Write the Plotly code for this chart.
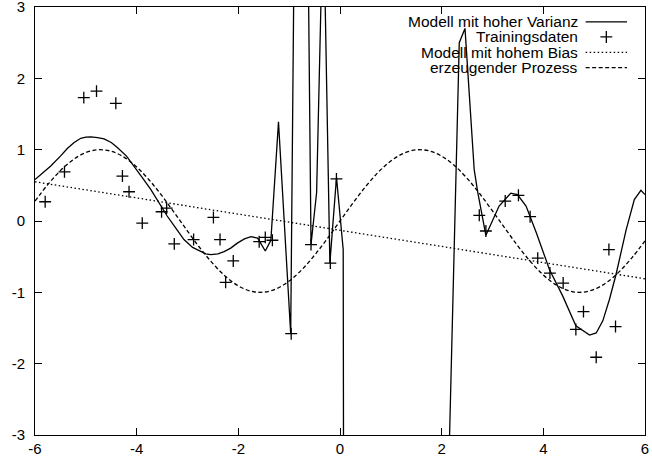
import plotly.graph_objects as go

# ---------------- data ----------------
# training data (crosses)
train_x = [-5.80, -5.42, -5.04, -4.79, -4.41, -4.28, -4.15, -3.89, -3.51, -3.41,
           -3.26, -2.88, -2.49, -2.36, -2.25, -2.10, -1.59, -1.47, -1.33, -0.96,
           -0.57, -0.19, -0.07, 2.74, 2.87, 3.25, 3.51, 3.74, 3.89, 4.13,
           4.39, 4.64, 4.79, 5.04, 5.29, 5.42]
train_y = [0.27, 0.69, 1.73, 1.82, 1.65, 0.63, 0.41, -0.03, 0.13, 0.18,
           -0.32, -0.26, 0.05, -0.26, -0.86, -0.56, -0.29, -0.23, -0.27, -1.58,
           -0.33, -0.59, 0.59, 0.08, -0.14, 0.28, 0.36, 0.06, -0.52, -0.73,
           -0.87, -1.52, -1.27, -1.91, -0.40, -1.48]

# high-variance model (solid), values beyond the axis range are clipped
var_x = [-6.00, -5.69, -5.50, -5.36, -5.23, -5.10, -5.00, -4.90, -4.77, -4.64,
         -4.50, -4.38, -4.20, -4.05, -3.90, -3.72, -3.55, -3.40, -3.23, -3.07,
         -2.90, -2.74, -2.64, -2.54, -2.40, -2.28, -2.15, -2.02, -1.88, -1.75,
         -1.62, -1.47, -1.36, -1.21,
         -0.97, -0.905, -0.625, -0.57, -0.46, -0.357, -0.306, -0.199, -0.069, 0.063,
         0.07, 2.135, 2.346, 2.459, 2.64, 2.71, 2.87, 3.13, 3.36, 3.49,
         3.66, 3.86, 4.12, 4.38, 4.64, 4.91, 5.04, 5.17, 5.30, 5.43,
         5.63, 5.79, 5.92, 6.00]
var_y = [0.58, 0.77, 0.91, 1.02, 1.10, 1.16, 1.175, 1.18, 1.17, 1.15,
         1.10, 1.03, 0.91, 0.77, 0.62, 0.44, 0.25, 0.07, -0.10, -0.26,
         -0.37, -0.43, -0.46, -0.47, -0.46, -0.43, -0.38, -0.31, -0.25, -0.22,
         -0.24, -0.42, -0.27, 1.39,
         -1.58, 3.6, 3.6, -0.33, 0.40, 3.6, 3.6, -0.59, 0.61, -0.40,
         -3.6, -3.6, 2.50, 2.70, 0.72, 0.40, -0.20, 0.21, 0.39, 0.37,
         0.21, -0.16, -0.68, -1.05, -1.47, -1.60, -1.57, -1.40, -1.10, -0.75,
         -0.12, 0.30, 0.43, 0.37]

# high-bias model (dotted straight line)
bias_x = [-6.0, 6.0]
bias_y = [0.55, -0.81]

# generating process (dashed): sampled sine-shaped curve
proc_x = [-6.0, -5.75, -5.5, -5.25, -5.0, -4.75, -4.5, -4.25, -4.0, -3.75, -3.5, -3.25,
          -3.0, -2.75, -2.5, -2.25, -2.0, -1.75, -1.5, -1.25, -1.0, -0.75, -0.5, -0.25,
          0.0, 0.25, 0.5, 0.75, 1.0, 1.25, 1.5, 1.75, 2.0, 2.25, 2.5, 2.75,
          3.0, 3.25, 3.5, 3.75, 4.0, 4.25, 4.5, 4.75, 5.0, 5.25, 5.5, 5.75, 6.0]
proc_y = [0.279, 0.509, 0.706, 0.859, 0.959, 0.999, 0.978, 0.895, 0.757, 0.572, 0.351, 0.108,
          -0.141, -0.382, -0.598, -0.778, -0.909, -0.984, -0.997, -0.949, -0.841, -0.682, -0.479, -0.247,
          0.0, 0.247, 0.479, 0.682, 0.841, 0.949, 0.997, 0.984, 0.909, 0.778, 0.598, 0.382,
          0.141, -0.108, -0.351, -0.572, -0.757, -0.895, -0.978, -0.999, -0.959, -0.859, -0.706, -0.509, -0.279]

x_ticks = [-6, -4, -2, 0, 2, 4, 6]
x_ticktext = ["-6", "-4", "-2", "0", "2", "4", "6"]
y_ticks = [-3, -2, -1, 0, 1, 2, 3]
y_ticktext = ["-3", "-2", "-1", "0", "1", "2", "3"]

legend_labels = ["Modell mit hoher Varianz", "Trainingsdaten",
                 "Modell mit hohem Bias", "erzeugender Prozess"]

# ---------------- figure ----------------
FONT = "Liberation Sans, Arial, Helvetica, sans-serif"
FS = 15
FS_KEY = 15.5
LW = 1.3
DOT = "1.5px,2.5px"
DASH = "4px,2.5px"

fig = go.Figure()

fig.add_trace(go.Scatter(x=proc_x, y=proc_y, mode="lines", line_shape="spline",
                         line=dict(color="black", width=LW, dash=DASH), showlegend=False))
fig.add_trace(go.Scatter(x=bias_x, y=bias_y, mode="lines",
                         line=dict(color="black", width=LW, dash=DOT), showlegend=False))
fig.add_trace(go.Scatter(x=var_x, y=var_y, mode="lines",
                         line=dict(color="black", width=LW), showlegend=False))
fig.add_trace(go.Scatter(x=train_x, y=train_y, mode="markers",
                         marker=dict(symbol="cross-thin", size=8.5,
                                     line=dict(color="black", width=LW)),
                         cliponaxis=True, showlegend=False))

# manual gnuplot-style key (text right-aligned, sample on the right)
key_y = [0.9654, 0.930, 0.894, 0.8584]
key_text_x = 0.8925
key_x0, key_x1 = 0.9027, 0.9705
key_styles = [dict(dash="solid"), None, dict(dash=DOT), dict(dash=DASH)]
for i, lab in enumerate(legend_labels):
    fig.add_annotation(x=key_text_x, y=key_y[i], xref="paper", yref="paper",
                       text=lab, showarrow=False, xanchor="right", yanchor="middle",
                       borderpad=0,
                       font=dict(family=FONT, size=FS_KEY, color="black"))
    if key_styles[i] is None:
        fig.add_trace(go.Scatter(x=[(key_x0 + key_x1) / 2], y=[key_y[i]],
                                 xaxis="x2", yaxis="y2", mode="markers",
                                 marker=dict(symbol="cross-thin", size=8.5,
                                             line=dict(color="black", width=LW)),
                                 showlegend=False))
    else:
        fig.add_trace(go.Scatter(x=[key_x0, key_x1], y=[key_y[i], key_y[i]],
                                 xaxis="x2", yaxis="y2", mode="lines",
                                 line=dict(color="black", width=LW, **key_styles[i]),
                                 showlegend=False))

axis_common = dict(showline=True, linecolor="black", linewidth=1, mirror="ticks",
                   ticks="inside", ticklen=7, tickwidth=1, tickcolor="black",
                   showgrid=False, zeroline=False, automargin=False,
                   ticklabeloverflow="allow",
                   tickfont=dict(family=FONT, size=FS, color="black"))

fig.update_layout(
    width=652, height=461,
    margin=dict(l=35, r=7, t=7, b=26),
    paper_bgcolor="white", plot_bgcolor="white",
    showlegend=False,
    xaxis=dict(range=[-6, 6], tickvals=x_ticks, ticktext=x_ticktext, **axis_common),
    yaxis=dict(range=[-3, 3], tickvals=y_ticks, ticktext=y_ticktext,
               ticklabelstandoff=6, **axis_common),
    xaxis2=dict(overlaying="x", range=[0, 1], visible=False),
    yaxis2=dict(overlaying="y", range=[0, 1], visible=False),
)

fig.write_html("out.html")
